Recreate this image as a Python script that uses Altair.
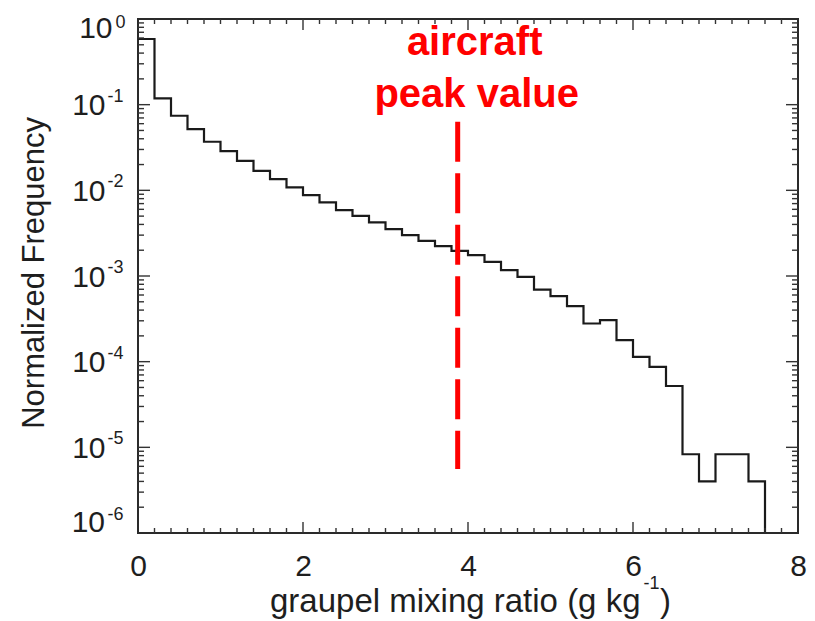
import altair as alt
import pandas as pd

# Histogram of graupel mixing ratio: left bin edges (g/kg) and normalized frequency
bin_left = [0.0, 0.2, 0.4, 0.6, 0.8, 1.0, 1.2, 1.4, 1.6, 1.8,
            2.0, 2.2, 2.4, 2.6, 2.8, 3.0, 3.2, 3.4, 3.6, 3.8,
            4.0, 4.2, 4.4, 4.6, 4.8, 5.0, 5.2, 5.4, 5.6, 5.8,
            6.0, 6.2, 6.4, 6.6, 6.8, 7.0, 7.2, 7.4]
frequency = [0.584, 0.1185, 0.0742, 0.0519, 0.0369, 0.0287, 0.0221, 0.0169, 0.0135, 0.0108,
             0.00879, 0.00722, 0.00587, 0.00504, 0.00422, 0.00352, 0.00300, 0.00257, 0.00223, 0.00196,
             0.00175, 0.00146, 0.00117, 0.000976, 0.000695, 0.000581, 0.000444, 0.000279, 0.000305, 0.000178,
             0.000114, 8.7e-5, 5.2e-5, 8.3e-6, 4.0e-6, 8.3e-6, 8.3e-6, 4.0e-6]
last_edge = 7.6

# aircraft-observed peak value and extent of its marker line
peak_value = 3.875
peak_top = 0.063
peak_bottom = 5.6e-6

x_tick_values = [0, 2, 4, 6, 8]
y_exponents = [0, -1, -2, -3, -4, -5, -6]

X_DOMAIN = [0, 8]
Y_DOMAIN = [1e-6, 1]
W, H = 660, 514
INK = "#1e1e1e"
FONT = "Liberation Sans"

xs = alt.Scale(domain=X_DOMAIN, nice=False, zero=False)
ys = alt.Scale(type="log", domain=Y_DOMAIN, nice=False)

# shared axis definitions (identical in every layer so they merge cleanly)
x_axis = alt.Axis(
    values=x_tick_values, format="d", title=None, ticks=False, domain=False, grid=False,
    labelFontSize=30, labelFont=FONT, labelColor=INK, labelPadding=18, labelFlush=False)
y_axis = alt.Axis(
    labels=False, ticks=False, domain=False, grid=False,
    title="Normalized Frequency", titleFontSize=31, titleFont=FONT,
    titleFontWeight="normal", titleColor=INK, titleAngle=270,
    titleX=-94.6, titleY=253.4, titleAlign="center", titleBaseline="alphabetic")


def X(field):
    return alt.X(field, scale=xs, axis=x_axis)


def Y(field):
    return alt.Y(field, scale=ys, axis=y_axis)


# step outline: each bin's level runs to the next edge, last bin drops to the floor
step = pd.DataFrame({"x": bin_left + [last_edge], "f": frequency + [Y_DOMAIN[0]]})

hist = alt.Chart(step).mark_line(
    interpolate="step-after", color="#1a1a1a", strokeWidth=2.2, clip=True
).encode(x=X("x:Q"), y=Y("f:Q"))

# inward tick marks on all four sides
minor_x = [round(0.2 * k, 1) for k in range(1, 40) if k % 10 != 0]
major_x = [2, 4, 6]
minor_y = [m * 10.0 ** e for e in range(-6, 0) for m in range(2, 10)]
major_y = [10.0 ** e for e in range(-5, 0)]

tick_style = dict(color="#333333", strokeWidth=1.4)


def x_ticks(vals, length):
    d = pd.DataFrame({"x": vals})
    base = alt.Chart(d).mark_rule(**tick_style)
    bottom = base.encode(x=X("x:Q"), y=alt.value(H), y2=alt.value(H - length))
    top = base.encode(x=X("x:Q"), y=alt.value(0), y2=alt.value(length))
    return [bottom, top]


def y_ticks(vals, length):
    d = pd.DataFrame({"f": vals})
    base = alt.Chart(d).mark_rule(**tick_style)
    left = base.encode(y=Y("f:Q"), x=alt.value(0), x2=alt.value(length))
    right = base.encode(y=Y("f:Q"), x=alt.value(W), x2=alt.value(W - length))
    return [left, right]


ticks = x_ticks(minor_x, 5) + x_ticks(major_x, 11) + y_ticks(minor_y, 6) + y_ticks(major_y, 12)

# y tick labels as base 10 with a raised exponent
ylab = pd.DataFrame({"e": y_exponents,
                     "f": [10.0 ** e for e in y_exponents],
                     "sup": [str(e) for e in y_exponents]})


def power_label(filter_expr, base_dx, base_dy, sup_dx, sup_dy):
    c = alt.Chart(ylab).transform_filter(filter_expr)
    ten = c.mark_text(text="10", align="right", baseline="alphabetic", fontSize=30,
                      font=FONT, color=INK, dx=base_dx, dy=base_dy).encode(
        y=Y("f:Q"), x=alt.value(0))
    sup = c.mark_text(align="left", baseline="alphabetic", fontSize=18,
                      font=FONT, color=INK, dx=sup_dx, dy=sup_dy).encode(
        y=Y("f:Q"), x=alt.value(0), text="sup:N")
    return [ten, sup]


labels = (power_label("datum.e == 0", -25.5, 19, -22.5, 9.3)
          + power_label("datum.e < 0 && datum.e > -6", -32.5, 10.5, -30.5, -3)
          + power_label("datum.e == -6", -33, -1, -30.5, -12.7))

# x axis title with superscript unit exponent
title_base = alt.Chart(pd.DataFrame({"a": [0]}))
xtitle = [
    title_base.mark_text(text="graupel mixing ratio (g kg", align="right", baseline="alphabetic",
                         fontSize=33, font=FONT, color=INK).encode(x=alt.value(502.5), y=alt.value(593)),
    title_base.mark_text(text="-1", align="left", baseline="alphabetic",
                         fontSize=18, font=FONT, color=INK).encode(x=alt.value(505.5), y=alt.value(570)),
    title_base.mark_text(text=")", align="left", baseline="alphabetic",
                         fontSize=33, font=FONT, color=INK).encode(x=alt.value(522), y=alt.value(593)),
]

# dashed marker of the aircraft peak value with its label
peak = pd.DataFrame({"x": [peak_value], "f": [peak_top], "bottom": [peak_bottom]})
peak_line = alt.Chart(peak).mark_rule(
    color="#ff0000", strokeWidth=5, strokeDash=[40, 11.5], strokeCap="butt"
).encode(x=X("x:Q"), y=Y("f:Q"), y2="bottom:Q")

peak_text = [
    alt.Chart(peak).mark_text(text="aircraft", align="center", baseline="alphabetic",
                              fontSize=40, fontWeight="bold", font=FONT, color="#ff0000", dx=17
                              ).encode(x=X("x:Q"), y=alt.value(36)),
    alt.Chart(peak).mark_text(text="peak value", align="center", baseline="alphabetic",
                              fontSize=40, fontWeight="bold", font=FONT, color="#ff0000", dx=19
                              ).encode(x=X("x:Q"), y=alt.value(88.3)),
]

chart = alt.layer(
    hist, *ticks, *labels, *xtitle, peak_line, *peak_text
).properties(
    width=W, height=H,
    autosize=alt.AutoSizeParams(type="none"),
    padding={"left": 138, "top": 19, "right": 17, "bottom": 88},
    background="white",
).configure_view(
    stroke="#2a2a2a", strokeWidth=2
)

chart.save("out.html", embed_options={"renderer": "svg", "actions": False})
